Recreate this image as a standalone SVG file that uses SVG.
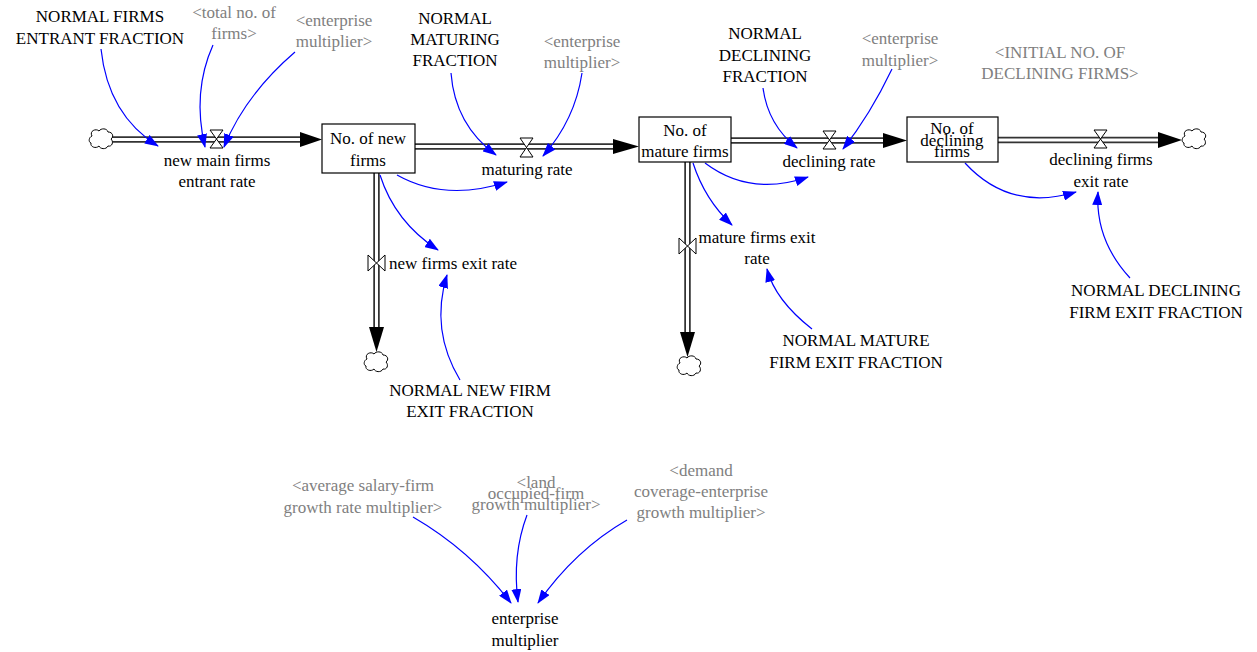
<svg xmlns="http://www.w3.org/2000/svg" width="1257" height="652" viewBox="0 0 1257 652" font-family="Liberation Serif, serif" font-size="17">
  <style>
    text { font-family: Liberation Serif, Tinos, Times New Roman, serif; fill: #000; text-anchor: middle; }
    text.shadow { fill: #808080; }
    text.left { text-anchor: start; }
    .stock { fill: #fff; stroke: #000; stroke-width: 1.2; }
    .pipe-out { fill: none; stroke: #333; stroke-width: 6.5; }
    .pipe-in { fill: none; stroke: #fff; stroke-width: 3; }
    .head { fill: #000; }
    .valve { fill: #fff; stroke: #000; stroke-width: 1; }
    .cloud { fill: #fff; stroke: #000; stroke-width: 1; }
    .link { fill: none; stroke: #0000ff; stroke-width: 1.2; marker-end: url(#arrow); }
  </style>
  <defs>
    <marker id="arrow" viewBox="0 0 14 10" refX="13" refY="5" markerWidth="14" markerHeight="10" markerUnits="userSpaceOnUse" orient="auto">
      <path d="M0,0 L14,5 L0,10 Z" fill="#0000ff"/>
    </marker>
    <path id="cloudShape" class="cloud" d="M-9,-3 C-12,-8 -5,-11 -2,-8 C0,-11 6,-11 7,-7 C12,-7 13,-2 10,0 C13,3 11,8 7,7 C5,11 -1,10 -2,7 C-5,10 -11,8 -10,4 C-13,3 -12,-2 -9,-3 Z"/>
  </defs>

  <!-- flow pipes, valves and sinks -->
  <g id="flows">
    <!-- new main firms entrant rate -->
    <path class="pipe-out" d="M112,139.5 H302"/>
    <path class="pipe-in" d="M112,139.5 H302"/>
    <polygon class="head" points="300,132 322,139.5 300,147"/>
    <use href="#cloudShape" x="101" y="139"/>
    <path class="valve" d="M210,130 L223,130 L210,148 L223,148 Z"/>

    <!-- maturing rate -->
    <path class="pipe-out" d="M415,146.5 H615"/>
    <path class="pipe-in" d="M415,146.5 H615"/>
    <polygon class="head" points="613,139 639,146.5 613,154"/>
    <path class="valve" d="M520,138 L533,138 L520,157 L533,157 Z"/>

    <!-- declining rate -->
    <path class="pipe-out" d="M731,140.5 H885"/>
    <path class="pipe-in" d="M731,140.5 H885"/>
    <polygon class="head" points="883,133 907,140.5 883,148"/>
    <path class="valve" d="M823,131 L836,131 L823,149 L836,149 Z"/>

    <!-- declining firms exit rate -->
    <path class="pipe-out" d="M998,140 H1160"/>
    <path class="pipe-in" d="M998,140 H1160"/>
    <polygon class="head" points="1158,132 1182,140 1158,148"/>
    <use href="#cloudShape" x="1194" y="139"/>
    <path class="valve" d="M1094,130 L1107,130 L1094,148 L1107,148 Z"/>

    <!-- new firms exit rate -->
    <path class="pipe-out" d="M376.5,173 V329"/>
    <path class="pipe-in" d="M376.5,173 V329"/>
    <polygon class="head" points="369,327 376.5,352 384,327"/>
    <use href="#cloudShape" x="376" y="362"/>
    <path class="valve" d="M368,255 L368,271 L385,255 L385,271 Z"/>

    <!-- mature firms exit rate -->
    <path class="pipe-out" d="M687.5,162 V334"/>
    <path class="pipe-in" d="M687.5,162 V334"/>
    <polygon class="head" points="680,332 687.5,357 695,332"/>
    <use href="#cloudShape" x="689" y="366"/>
    <path class="valve" d="M679,238 L679,254 L696,238 L696,254 Z"/>
  </g>

  <!-- information links -->
  <g id="links">
    <path class="link" d="M101,49 Q108,115 158,146"/>
    <path class="link" d="M213,45 Q192,92 205,147"/>
    <path class="link" d="M295,52 Q245,95 224,147"/>
    <path class="link" d="M451,73 Q455,125 496,155"/>
    <path class="link" d="M582,73 Q575,120 543,156"/>
    <path class="link" d="M397,175 Q445,202 507,182"/>
    <path class="link" d="M380,175 Q395,222 438,250"/>
    <path class="link" d="M460,380 Q430,330 447,275"/>
    <path class="link" d="M763,88 Q768,125 797,148"/>
    <path class="link" d="M892,69 Q870,115 843,149"/>
    <path class="link" d="M705,163 Q750,197 808,177"/>
    <path class="link" d="M693,163 Q705,200 732,225"/>
    <path class="link" d="M812,329 Q775,300 767,269"/>
    <path class="link" d="M965,163 Q1010,212 1076,192"/>
    <path class="link" d="M1130,278 Q1095,240 1098,192"/>
    <path class="link" d="M413,517 Q470,550 511,603"/>
    <path class="link" d="M527,515 Q512,555 518,602"/>
    <path class="link" d="M627,520 Q575,550 538,603"/>
  </g>

  <!-- stocks -->
  <g id="stock-new-firms">
    <rect class="stock" x="322" y="124" width="93" height="49"/>
    <text x="368" y="144">No. of new</text>
    <text x="368" y="166">firms</text>
  </g>
  <g id="stock-mature-firms">
    <rect class="stock" x="639" y="117" width="92" height="45"/>
    <text x="685" y="136">No. of</text>
    <text x="685" y="157">mature firms</text>
  </g>
  <g id="stock-declining-firms">
    <rect class="stock" x="907" y="117" width="91" height="45"/>
    <text x="952" y="134">No. of</text>
    <text x="952" y="146">declining</text>
    <text x="952" y="157">firms</text>
  </g>

  <!-- rates -->
  <g id="rate-new-main-firms-entrant">
    <text x="217" y="166">new main firms</text>
    <text x="217" y="187">entrant rate</text>
  </g>
  <g id="rate-maturing">
    <text x="527" y="175">maturing rate</text>
  </g>
  <g id="rate-declining">
    <text x="829" y="167">declining rate</text>
  </g>
  <g id="rate-declining-firms-exit">
    <text x="1101" y="165">declining firms</text>
    <text x="1101" y="187">exit rate</text>
  </g>
  <g id="rate-new-firms-exit">
    <text class="left" x="389" y="269">new firms exit rate</text>
  </g>
  <g id="rate-mature-firms-exit">
    <text x="757" y="243">mature firms exit</text>
    <text x="757" y="264">rate</text>
  </g>

  <!-- constants -->
  <g id="normal-firms-entrant-fraction">
    <text x="100" y="22">NORMAL FIRMS</text>
    <text x="100" y="44">ENTRANT FRACTION</text>
  </g>
  <g id="total-no-of-firms">
    <text class="shadow" x="234" y="18">&lt;total no. of</text>
    <text class="shadow" x="234" y="39">firms&gt;</text>
  </g>
  <g id="enterprise-multiplier-1">
    <text class="shadow" x="334" y="26">&lt;enterprise</text>
    <text class="shadow" x="334" y="47">multiplier&gt;</text>
  </g>
  <g id="normal-maturing-fraction">
    <text x="455" y="24">NORMAL</text>
    <text x="455" y="45">MATURING</text>
    <text x="455" y="66">FRACTION</text>
  </g>
  <g id="enterprise-multiplier-2">
    <text class="shadow" x="582" y="47">&lt;enterprise</text>
    <text class="shadow" x="582" y="68">multiplier&gt;</text>
  </g>
  <g id="normal-declining-fraction">
    <text x="765" y="39">NORMAL</text>
    <text x="765" y="61">DECLINING</text>
    <text x="765" y="82">FRACTION</text>
  </g>
  <g id="enterprise-multiplier-3">
    <text class="shadow" x="900" y="44">&lt;enterprise</text>
    <text class="shadow" x="900" y="66">multiplier&gt;</text>
  </g>
  <g id="initial-no-of-declining-firms">
    <text class="shadow" x="1060" y="58">&lt;INITIAL NO. OF</text>
    <text class="shadow" x="1060" y="79">DECLINING FIRMS&gt;</text>
  </g>
  <g id="normal-new-firm-exit-fraction">
    <text x="470" y="396">NORMAL NEW FIRM</text>
    <text x="470" y="417">EXIT FRACTION</text>
  </g>
  <g id="normal-mature-firm-exit-fraction">
    <text x="856" y="346">NORMAL MATURE</text>
    <text x="856" y="368">FIRM EXIT FRACTION</text>
  </g>
  <g id="normal-declining-firm-exit-fraction">
    <text x="1156" y="296">NORMAL DECLINING</text>
    <text x="1156" y="318">FIRM EXIT FRACTION</text>
  </g>

  <!-- enterprise multiplier sector -->
  <g id="average-salary-firm-growth-rate-multiplier">
    <text class="shadow" x="363" y="491">&lt;average salary-firm</text>
    <text class="shadow" x="363" y="513">growth rate multiplier&gt;</text>
  </g>
  <g id="land-occupied-firm-growth-multiplier">
    <text class="shadow" x="536" y="488">&lt;land</text>
    <text class="shadow" x="536" y="499">occupied-firm</text>
    <text class="shadow" x="536" y="510">growth multiplier&gt;</text>
  </g>
  <g id="demand-coverage-enterprise-growth-multiplier">
    <text class="shadow" x="701" y="476">&lt;demand</text>
    <text class="shadow" x="701" y="497">coverage-enterprise</text>
    <text class="shadow" x="701" y="518">growth multiplier&gt;</text>
  </g>
  <g id="enterprise-multiplier">
    <text x="525" y="624">enterprise</text>
    <text x="525" y="646">multiplier</text>
  </g>
</svg>
